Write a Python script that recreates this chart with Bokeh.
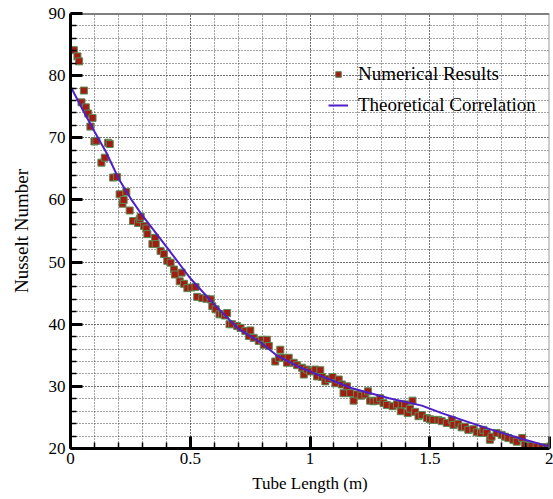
from bokeh.plotting import figure
from bokeh.models import (FixedTicker, CustomJSTickFormatter, Legend, LegendItem,
                          Span, Range1d, ColumnDataSource)
from bokeh.embed import file_html
from bokeh.resources import INLINE

# ---- data ----
num_x = [0.014, 0.029, 0.036, 0.046, 0.056, 0.064, 0.074, 0.083, 0.092, 0.100,
         0.108, 0.129, 0.143, 0.157, 0.164, 0.178, 0.194, 0.205, 0.217, 0.222,
         0.233, 0.247, 0.261, 0.282, 0.289, 0.293, 0.307, 0.317, 0.321, 0.342,
         0.353, 0.356, 0.376, 0.390, 0.404, 0.418, 0.432, 0.436, 0.456, 0.464,
         0.474, 0.488, 0.505, 0.522, 0.529, 0.550, 0.567, 0.585, 0.592, 0.606,
         0.622, 0.633, 0.645, 0.654, 0.664, 0.675, 0.696, 0.710, 0.730, 0.745,
         0.751, 0.765, 0.786, 0.800, 0.807, 0.820, 0.828, 0.855, 0.870, 0.876,
         0.890, 0.904, 0.911, 0.932, 0.946, 0.967, 0.974, 0.988, 1.001, 1.022,
         1.029, 1.043, 1.050, 1.064, 1.078, 1.094, 1.106, 1.120, 1.133, 1.140,
         1.154, 1.168, 1.182, 1.196, 1.214, 1.231, 1.242, 1.251, 1.265, 1.279,
         1.293, 1.307, 1.321, 1.345, 1.363, 1.379, 1.383, 1.397, 1.408, 1.418,
         1.428, 1.439, 1.453, 1.467, 1.488, 1.501, 1.515, 1.536, 1.550, 1.571,
         1.592, 1.599, 1.619, 1.633, 1.647, 1.661, 1.682, 1.696, 1.714, 1.724,
         1.738, 1.751, 1.758, 1.779, 1.800, 1.814, 1.828, 1.849, 1.863, 1.886,
         1.897, 1.911, 1.925, 1.946, 1.967, 1.988, 2.000]
num_nu = [84.1, 83.1, 82.3, 75.7, 77.6, 74.9, 73.9, 71.8, 73.2, 69.4,
          69.5, 66.0, 66.8, 69.2, 69.0, 63.6, 63.7, 60.9, 59.4, 60.0,
          61.3, 58.3, 56.6, 56.3, 56.9, 57.3, 55.8, 55.4, 54.5, 52.9,
          53.9, 52.9, 51.8, 51.3, 50.2, 49.9, 48.8, 48.0, 46.9, 48.3,
          46.5, 45.8, 45.9, 46.0, 44.4, 44.2, 44.1, 44.0, 42.9, 42.4,
          41.6, 41.6, 41.4, 41.8, 40.0, 40.0, 39.7, 39.4, 38.9, 38.1,
          39.0, 37.8, 37.3, 37.5, 36.7, 37.5, 36.5, 34.0, 34.6, 35.9,
          34.6, 33.8, 34.6, 33.8, 33.4, 33.0, 31.9, 32.7, 32.4, 32.7,
          31.6, 32.6, 31.5, 30.8, 31.2, 31.5, 30.5, 31.1, 30.3, 28.9,
          30.0, 28.9, 27.7, 28.7, 28.5, 28.7, 29.2, 27.7, 27.6, 27.7,
          28.1, 27.3, 27.0, 26.8, 27.1, 26.0, 27.1, 27.1, 25.7, 26.4,
          27.7, 25.9, 25.2, 25.4, 24.9, 24.7, 24.6, 24.6, 24.4, 24.1,
          24.6, 23.8, 24.0, 23.4, 23.5, 23.0, 23.1, 22.6, 22.5, 23.0,
          22.5, 21.4, 21.9, 22.5, 22.2, 21.9, 21.7, 21.4, 21.1, 21.7,
          20.6, 20.4, 20.4, 20.3, 20.2, 20.2, 20.3]

theo_x = [0.0, 0.05, 0.1, 0.15, 0.2, 0.25, 0.3, 0.4, 0.5, 0.6, 0.7, 0.8, 0.86,
          0.95, 1.05, 1.175, 1.33, 1.467, 1.55, 1.65, 1.76, 1.88, 2.0]
theo_nu = [78.3, 74.6, 71.0, 67.6, 63.5, 60.3, 57.5, 52.5, 47.4, 43.2, 39.3,
           36.9, 35.0, 33.2, 31.6, 29.7, 28.1, 26.9, 25.7, 24.4, 23.0, 21.6, 20.3]

x_major_ticks = [0, 0.5, 1, 1.5, 2]
x_minor_ticks = [0, 0.1, 0.2, 0.3, 0.4, 0.5, 0.6, 0.7, 0.8, 0.9, 1.0,
                 1.1, 1.2, 1.3, 1.4, 1.5, 1.6, 1.7, 1.8, 1.9, 2.0]
y_major_ticks = [20, 30, 40, 50, 60, 70, 80, 90]
y_minor_ticks = list(range(20, 91, 2))

FONT = "Liberation Serif"

p = figure(width=553, height=499, x_range=Range1d(0, 2), y_range=Range1d(20, 90),
           output_backend="svg", toolbar_location=None,
           min_border_left=70, min_border_right=4, min_border_top=13,
           min_border_bottom=51)
p.outline_line_color = None
p.background_fill_color = "white"
p.border_fill_color = "white"

xt = FixedTicker(ticks=x_major_ticks, minor_ticks=x_minor_ticks)
yt = FixedTicker(ticks=y_major_ticks, minor_ticks=y_minor_ticks)
p.xaxis.ticker = xt
p.yaxis.ticker = yt
p.xgrid.ticker = xt
p.ygrid.ticker = yt
p.xaxis.formatter = CustomJSTickFormatter(code="return String(Math.round(tick*10)/10);")

for g in (p.xgrid, p.ygrid):
    g.grid_line_color = "#444444"
    g.grid_line_dash = "1 2"
    g.grid_line_width = 1
    g.minor_grid_line_color = "#444444"
    g.minor_grid_line_dash = "1 2"
    g.minor_grid_line_width = 1

for ax in (p.xaxis, p.yaxis):
    ax.axis_line_color = "black"
    ax.axis_line_width = 3
    ax.major_tick_in = 12
    ax.major_tick_out = 0
    ax.major_tick_line_width = 3
    ax.major_tick_line_color = "black"
    ax.minor_tick_in = 6
    ax.minor_tick_out = 0
    ax.minor_tick_line_width = 1.5
    ax.minor_tick_line_color = "black"
    ax.major_label_text_font = FONT
    ax.major_label_text_font_size = "17px"
    ax.major_label_text_color = "black"
    ax.axis_label_text_font = FONT
    ax.axis_label_text_font_style = "normal"
    ax.axis_label_text_color = "black"

p.xaxis.major_label_standoff = 4
p.yaxis.major_label_standoff = 5
p.xaxis.axis_label = "Tube Length (m)"
p.yaxis.axis_label = "Nusselt Number"
p.xaxis.axis_label_text_font_size = "17px"
p.yaxis.axis_label_text_font_size = "19px"
p.xaxis.axis_label_standoff = 7
p.yaxis.axis_label_standoff = 14

p.add_layout(Span(location=90, dimension="width", line_color="black", line_width=2))
p.add_layout(Span(location=2, dimension="height", line_color="#999999", line_width=2))

src_num = ColumnDataSource(dict(x=num_x, y=num_nu))
src_theo = ColumnDataSource(dict(x=theo_x, y=theo_nu))

r_num = p.scatter("x", "y", source=src_num, marker="square", size=7,
                  fill_color="#a11d12", line_color="#5d8a55", line_width=1)
r_theo = p.line("x", "y", source=src_theo, line_color="#4d1fc9", line_width=2)

legend = Legend(items=[LegendItem(label="Numerical Results", renderers=[r_num]),
                       LegendItem(label="Theoretical Correlation", renderers=[r_theo])],
                location=(258, 331), padding=0, margin=0, spacing=7,
                glyph_width=20, glyph_height=14, label_height=24,
                label_standoff=10, border_line_color=None,
                background_fill_alpha=0,
                label_text_font=FONT, label_text_font_size="19px",
                label_text_color="black")
p.add_layout(legend)

open("out.html", "w").write(file_html(p, INLINE))
